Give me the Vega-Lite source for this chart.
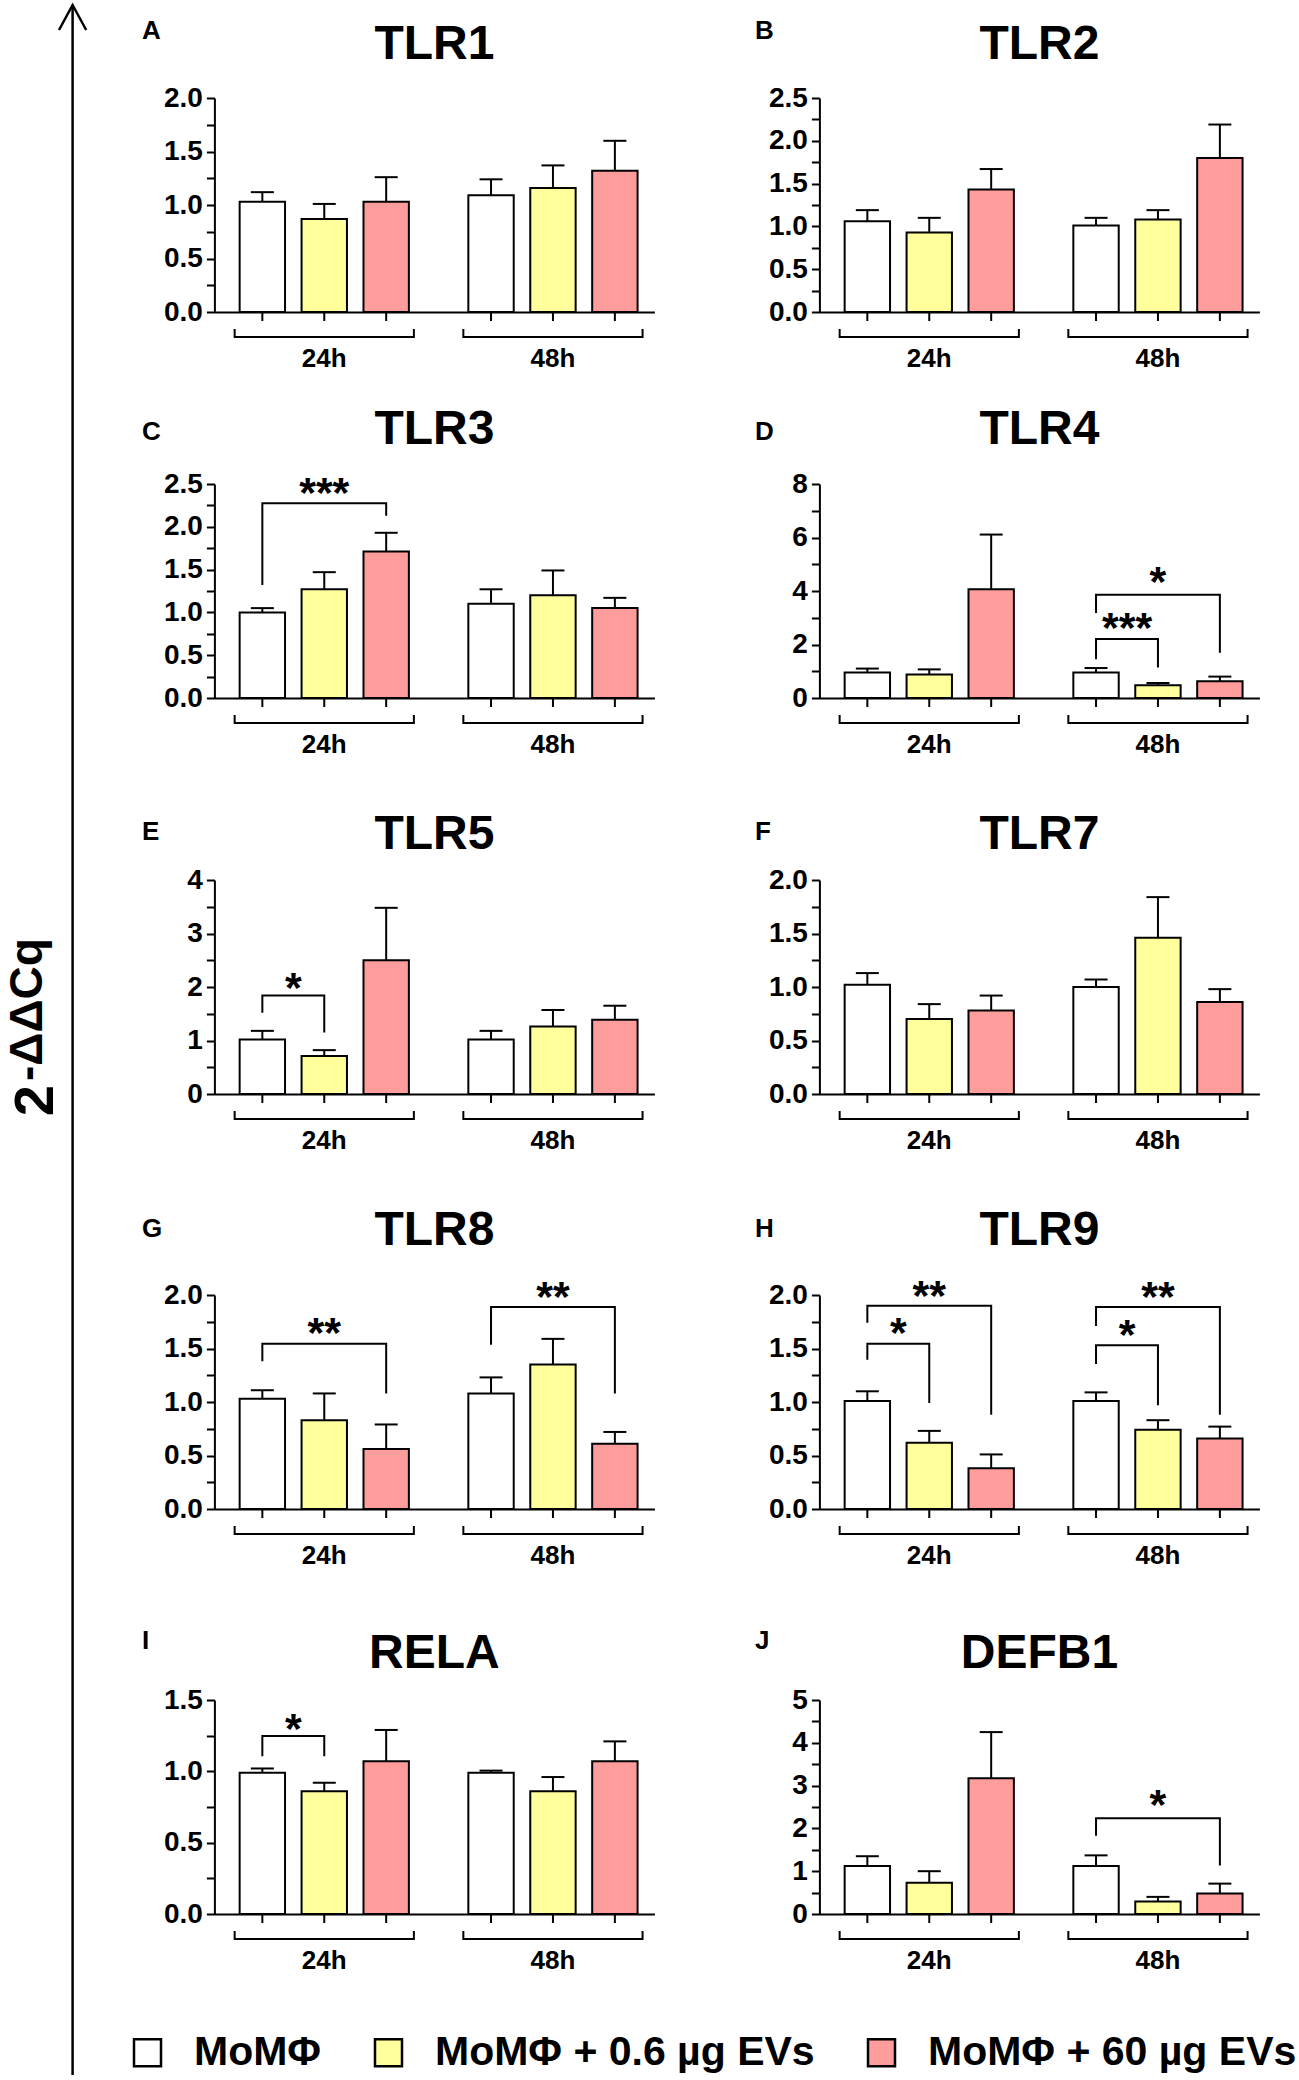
{
"$schema": "https://vega.github.io/schema/vega-lite/v6.json",
"background": "white",
"padding": {"left": 0, "top": 0, "right": 0, "bottom": 0},
"config": {
  "view": {"stroke": null},
  "font": "Liberation Sans",
  "title": {"fontSize": 48, "fontWeight": "bold", "color": "black", "anchor": "middle", "frame": "group", "baseline": "alphabetic"},
  "axis": {"domainColor": "black", "domainWidth": 2, "tickColor": "black", "tickWidth": 2, "tickSize": 8, "labelColor": "black", "labelFontSize": 28, "labelFontWeight": "bold", "labelPadding": 4, "grid": false, "labelOverlap": false, "titleColor": "black"},
  "axisX": {"ticks": false, "tickSize": 0, "labelPadding": 54, "labelBaseline": "alphabetic", "labelAngle": 0, "labelFontSize": 26},
  "axisY": {"titleAngle": 0, "titleAlign": "left", "titleBaseline": "alphabetic", "titleFontSize": 26, "titleFontWeight": "bold"}
},
"datasets": {
  "bars": [
    {"g":"TLR1","t":"24h","tr":"MoMΦ","m":1.03,"u":1.12},{"g":"TLR1","t":"24h","tr":"MoMΦ + 0.6 µg EVs","m":0.87,"u":1.01},{"g":"TLR1","t":"24h","tr":"MoMΦ + 60 µg EVs","m":1.03,"u":1.26},
    {"g":"TLR1","t":"48h","tr":"MoMΦ","m":1.09,"u":1.24},{"g":"TLR1","t":"48h","tr":"MoMΦ + 0.6 µg EVs","m":1.16,"u":1.37},{"g":"TLR1","t":"48h","tr":"MoMΦ + 60 µg EVs","m":1.32,"u":1.60},
    {"g":"TLR2","t":"24h","tr":"MoMΦ","m":1.06,"u":1.19},{"g":"TLR2","t":"24h","tr":"MoMΦ + 0.6 µg EVs","m":0.93,"u":1.10},{"g":"TLR2","t":"24h","tr":"MoMΦ + 60 µg EVs","m":1.43,"u":1.67},
    {"g":"TLR2","t":"48h","tr":"MoMΦ","m":1.01,"u":1.10},{"g":"TLR2","t":"48h","tr":"MoMΦ + 0.6 µg EVs","m":1.08,"u":1.19},{"g":"TLR2","t":"48h","tr":"MoMΦ + 60 µg EVs","m":1.80,"u":2.19},
    {"g":"TLR3","t":"24h","tr":"MoMΦ","m":1.00,"u":1.05},{"g":"TLR3","t":"24h","tr":"MoMΦ + 0.6 µg EVs","m":1.27,"u":1.47},{"g":"TLR3","t":"24h","tr":"MoMΦ + 60 µg EVs","m":1.71,"u":1.93},
    {"g":"TLR3","t":"48h","tr":"MoMΦ","m":1.10,"u":1.27},{"g":"TLR3","t":"48h","tr":"MoMΦ + 0.6 µg EVs","m":1.20,"u":1.49},{"g":"TLR3","t":"48h","tr":"MoMΦ + 60 µg EVs","m":1.05,"u":1.17},
    {"g":"TLR4","t":"24h","tr":"MoMΦ","m":0.95,"u":1.10},{"g":"TLR4","t":"24h","tr":"MoMΦ + 0.6 µg EVs","m":0.88,"u":1.07},{"g":"TLR4","t":"24h","tr":"MoMΦ + 60 µg EVs","m":4.07,"u":6.11},
    {"g":"TLR4","t":"48h","tr":"MoMΦ","m":0.95,"u":1.12},{"g":"TLR4","t":"48h","tr":"MoMΦ + 0.6 µg EVs","m":0.48,"u":0.56},{"g":"TLR4","t":"48h","tr":"MoMΦ + 60 µg EVs","m":0.63,"u":0.80},
    {"g":"TLR5","t":"24h","tr":"MoMΦ","m":1.02,"u":1.18},{"g":"TLR5","t":"24h","tr":"MoMΦ + 0.6 µg EVs","m":0.71,"u":0.82},{"g":"TLR5","t":"24h","tr":"MoMΦ + 60 µg EVs","m":2.50,"u":3.48},
    {"g":"TLR5","t":"48h","tr":"MoMΦ","m":1.02,"u":1.18},{"g":"TLR5","t":"48h","tr":"MoMΦ + 0.6 µg EVs","m":1.26,"u":1.57},{"g":"TLR5","t":"48h","tr":"MoMΦ + 60 µg EVs","m":1.39,"u":1.65},
    {"g":"TLR7","t":"24h","tr":"MoMΦ","m":1.02,"u":1.13},{"g":"TLR7","t":"24h","tr":"MoMΦ + 0.6 µg EVs","m":0.70,"u":0.84},{"g":"TLR7","t":"24h","tr":"MoMΦ + 60 µg EVs","m":0.78,"u":0.92},
    {"g":"TLR7","t":"48h","tr":"MoMΦ","m":1.00,"u":1.07},{"g":"TLR7","t":"48h","tr":"MoMΦ + 0.6 µg EVs","m":1.46,"u":1.84},{"g":"TLR7","t":"48h","tr":"MoMΦ + 60 µg EVs","m":0.86,"u":0.98},
    {"g":"TLR8","t":"24h","tr":"MoMΦ","m":1.03,"u":1.11},{"g":"TLR8","t":"24h","tr":"MoMΦ + 0.6 µg EVs","m":0.83,"u":1.08},{"g":"TLR8","t":"24h","tr":"MoMΦ + 60 µg EVs","m":0.56,"u":0.79},
    {"g":"TLR8","t":"48h","tr":"MoMΦ","m":1.08,"u":1.23},{"g":"TLR8","t":"48h","tr":"MoMΦ + 0.6 µg EVs","m":1.35,"u":1.59},{"g":"TLR8","t":"48h","tr":"MoMΦ + 60 µg EVs","m":0.61,"u":0.72},
    {"g":"TLR9","t":"24h","tr":"MoMΦ","m":1.01,"u":1.10},{"g":"TLR9","t":"24h","tr":"MoMΦ + 0.6 µg EVs","m":0.62,"u":0.73},{"g":"TLR9","t":"24h","tr":"MoMΦ + 60 µg EVs","m":0.38,"u":0.51},
    {"g":"TLR9","t":"48h","tr":"MoMΦ","m":1.01,"u":1.09},{"g":"TLR9","t":"48h","tr":"MoMΦ + 0.6 µg EVs","m":0.74,"u":0.83},{"g":"TLR9","t":"48h","tr":"MoMΦ + 60 µg EVs","m":0.66,"u":0.77},
    {"g":"RELA","t":"24h","tr":"MoMΦ","m":0.99,"u":1.02},{"g":"RELA","t":"24h","tr":"MoMΦ + 0.6 µg EVs","m":0.86,"u":0.92},{"g":"RELA","t":"24h","tr":"MoMΦ + 60 µg EVs","m":1.07,"u":1.29},
    {"g":"RELA","t":"48h","tr":"MoMΦ","m":0.99,"u":1.005},{"g":"RELA","t":"48h","tr":"MoMΦ + 0.6 µg EVs","m":0.86,"u":0.96},{"g":"RELA","t":"48h","tr":"MoMΦ + 60 µg EVs","m":1.07,"u":1.21},
    {"g":"DEFB1","t":"24h","tr":"MoMΦ","m":1.12,"u":1.35},{"g":"DEFB1","t":"24h","tr":"MoMΦ + 0.6 µg EVs","m":0.73,"u":1.00},{"g":"DEFB1","t":"24h","tr":"MoMΦ + 60 µg EVs","m":3.17,"u":4.25},
    {"g":"DEFB1","t":"48h","tr":"MoMΦ","m":1.12,"u":1.37},{"g":"DEFB1","t":"48h","tr":"MoMΦ + 0.6 µg EVs","m":0.29,"u":0.40},{"g":"DEFB1","t":"48h","tr":"MoMΦ + 60 µg EVs","m":0.48,"u":0.71}
  ],
  "sig": [
    {"g":"TLR3","t":"24h","id":"c1","s":1,"tr":"MoMΦ","y":1.32},{"g":"TLR3","t":"24h","id":"c1","s":2,"tr":"MoMΦ","y":2.276},{"g":"TLR3","t":"24h","id":"c1","s":3,"tr":"MoMΦ + 60 µg EVs","y":2.276},{"g":"TLR3","t":"24h","id":"c1","s":4,"tr":"MoMΦ + 60 µg EVs","y":2.13},
    {"g":"TLR4","t":"48h","id":"d1","s":1,"tr":"MoMΦ","y":1.45},{"g":"TLR4","t":"48h","id":"d1","s":2,"tr":"MoMΦ","y":2.21},{"g":"TLR4","t":"48h","id":"d1","s":3,"tr":"MoMΦ + 0.6 µg EVs","y":2.21},{"g":"TLR4","t":"48h","id":"d1","s":4,"tr":"MoMΦ + 0.6 µg EVs","y":1.14},
    {"g":"TLR4","t":"48h","id":"d2","s":1,"tr":"MoMΦ","y":3.18},{"g":"TLR4","t":"48h","id":"d2","s":2,"tr":"MoMΦ","y":3.86},{"g":"TLR4","t":"48h","id":"d2","s":3,"tr":"MoMΦ + 60 µg EVs","y":3.86},{"g":"TLR4","t":"48h","id":"d2","s":4,"tr":"MoMΦ + 60 µg EVs","y":1.69},
    {"g":"TLR5","t":"24h","id":"e1","s":1,"tr":"MoMΦ","y":1.52},{"g":"TLR5","t":"24h","id":"e1","s":2,"tr":"MoMΦ","y":1.84},{"g":"TLR5","t":"24h","id":"e1","s":3,"tr":"MoMΦ + 0.6 µg EVs","y":1.84},{"g":"TLR5","t":"24h","id":"e1","s":4,"tr":"MoMΦ + 0.6 µg EVs","y":1.15},
    {"g":"TLR8","t":"24h","id":"g1","s":1,"tr":"MoMΦ","y":1.38},{"g":"TLR8","t":"24h","id":"g1","s":2,"tr":"MoMΦ","y":1.545},{"g":"TLR8","t":"24h","id":"g1","s":3,"tr":"MoMΦ + 60 µg EVs","y":1.545},{"g":"TLR8","t":"24h","id":"g1","s":4,"tr":"MoMΦ + 60 µg EVs","y":1.08},
    {"g":"TLR8","t":"48h","id":"g2","s":1,"tr":"MoMΦ","y":1.536},{"g":"TLR8","t":"48h","id":"g2","s":2,"tr":"MoMΦ","y":1.887},{"g":"TLR8","t":"48h","id":"g2","s":3,"tr":"MoMΦ + 60 µg EVs","y":1.887},{"g":"TLR8","t":"48h","id":"g2","s":4,"tr":"MoMΦ + 60 µg EVs","y":1.08},
    {"g":"TLR9","t":"24h","id":"h1","s":1,"tr":"MoMΦ","y":1.395},{"g":"TLR9","t":"24h","id":"h1","s":2,"tr":"MoMΦ","y":1.545},{"g":"TLR9","t":"24h","id":"h1","s":3,"tr":"MoMΦ + 0.6 µg EVs","y":1.545},{"g":"TLR9","t":"24h","id":"h1","s":4,"tr":"MoMΦ + 0.6 µg EVs","y":0.99},
    {"g":"TLR9","t":"24h","id":"h2","s":1,"tr":"MoMΦ","y":1.74},{"g":"TLR9","t":"24h","id":"h2","s":2,"tr":"MoMΦ","y":1.90},{"g":"TLR9","t":"24h","id":"h2","s":3,"tr":"MoMΦ + 60 µg EVs","y":1.90},{"g":"TLR9","t":"24h","id":"h2","s":4,"tr":"MoMΦ + 60 µg EVs","y":0.88},
    {"g":"TLR9","t":"48h","id":"h3","s":1,"tr":"MoMΦ","y":1.354},{"g":"TLR9","t":"48h","id":"h3","s":2,"tr":"MoMΦ","y":1.53},{"g":"TLR9","t":"48h","id":"h3","s":3,"tr":"MoMΦ + 0.6 µg EVs","y":1.53},{"g":"TLR9","t":"48h","id":"h3","s":4,"tr":"MoMΦ + 0.6 µg EVs","y":0.97},
    {"g":"TLR9","t":"48h","id":"h4","s":1,"tr":"MoMΦ","y":1.71},{"g":"TLR9","t":"48h","id":"h4","s":2,"tr":"MoMΦ","y":1.887},{"g":"TLR9","t":"48h","id":"h4","s":3,"tr":"MoMΦ + 60 µg EVs","y":1.887},{"g":"TLR9","t":"48h","id":"h4","s":4,"tr":"MoMΦ + 60 µg EVs","y":0.88},
    {"g":"RELA","t":"24h","id":"i1","s":1,"tr":"MoMΦ","y":1.106},{"g":"RELA","t":"24h","id":"i1","s":2,"tr":"MoMΦ","y":1.247},{"g":"RELA","t":"24h","id":"i1","s":3,"tr":"MoMΦ + 0.6 µg EVs","y":1.247},{"g":"RELA","t":"24h","id":"i1","s":4,"tr":"MoMΦ + 0.6 µg EVs","y":1.106},
    {"g":"DEFB1","t":"48h","id":"j1","s":1,"tr":"MoMΦ","y":1.83},{"g":"DEFB1","t":"48h","id":"j1","s":2,"tr":"MoMΦ","y":2.24},{"g":"DEFB1","t":"48h","id":"j1","s":3,"tr":"MoMΦ + 60 µg EVs","y":2.24},{"g":"DEFB1","t":"48h","id":"j1","s":4,"tr":"MoMΦ + 60 µg EVs","y":1.136}
  ],
  "lab": [
    {"g":"TLR3","t":"24h","a":"MoMΦ","b":"MoMΦ + 60 µg EVs","y":2.48,"lbl":"***"},
    {"g":"TLR4","t":"48h","a":"MoMΦ","b":"MoMΦ + 0.6 µg EVs","y":2.87,"lbl":"***"},
    {"g":"TLR4","t":"48h","a":"MoMΦ","b":"MoMΦ + 60 µg EVs","y":4.6,"lbl":"*"},
    {"g":"TLR5","t":"24h","a":"MoMΦ","b":"MoMΦ + 0.6 µg EVs","y":2.15,"lbl":"*"},
    {"g":"TLR8","t":"24h","a":"MoMΦ","b":"MoMΦ + 60 µg EVs","y":1.71,"lbl":"**"},
    {"g":"TLR8","t":"48h","a":"MoMΦ","b":"MoMΦ + 60 µg EVs","y":2.05,"lbl":"**"},
    {"g":"TLR9","t":"24h","a":"MoMΦ","b":"MoMΦ + 0.6 µg EVs","y":1.71,"lbl":"*"},
    {"g":"TLR9","t":"24h","a":"MoMΦ","b":"MoMΦ + 60 µg EVs","y":2.06,"lbl":"**"},
    {"g":"TLR9","t":"48h","a":"MoMΦ","b":"MoMΦ + 0.6 µg EVs","y":1.69,"lbl":"*"},
    {"g":"TLR9","t":"48h","a":"MoMΦ","b":"MoMΦ + 60 µg EVs","y":2.05,"lbl":"**"},
    {"g":"RELA","t":"24h","a":"MoMΦ","b":"MoMΦ + 0.6 µg EVs","y":1.35,"lbl":"*"},
    {"g":"DEFB1","t":"48h","a":"MoMΦ","b":"MoMΦ + 60 µg EVs","y":2.68,"lbl":"*"}
  ]
},
"hconcat": [
  {
    "width": 72.6, "height": 2070,
    "data": {"values": [{"k": 1}]},
    "layer": [
      {"mark": {"type": "rule", "color": "black", "strokeWidth": 2.5},
       "encoding": {"x": {"datum": 1, "type": "quantitative", "scale": {"domain": [0, 1]}, "axis": null},
                    "y": {"datum": 0, "type": "quantitative", "scale": {"domain": [0, 1]}, "axis": null},
                    "y2": {"datum": 1}}},
      {"mark": {"type": "point", "shape": "M-1,1.84L0,0L1,1.84", "size": 740, "filled": false, "color": "black", "strokeWidth": 2.5, "opacity": 1},
       "encoding": {"x": {"datum": 1, "type": "quantitative"}, "y": {"datum": 1, "type": "quantitative"}}},
      {"mark": {"type": "text", "text": "2", "angle": 270, "align": "right", "baseline": "alphabetic", "fontSize": 56, "fontWeight": "bold", "color": "black", "dx": -45, "dy": 16.7}, "encoding": {}},
      {"mark": {"type": "text", "text": "-ΔΔCq", "angle": 270, "align": "left", "baseline": "alphabetic", "fontSize": 46, "fontWeight": "bold", "color": "black", "dx": -41, "dy": 5.7}, "encoding": {}}
    ]
  },
  {
    "spacing": 0, "bounds": "flush",
    "vconcat": [
      {"width": 10, "height": 93, "data": {"values": []}, "mark": "point", "encoding": {}},
      {"spacing": 165, "bounds": "flush", "hconcat": [
        {"width": 440, "height": 214, "title": {"text": "TLR1", "offset": -52.2},
         "data": {"name": "bars"}, "transform": [{"filter": "datum.g == 'TLR1'"}],
         "encoding": {
           "x": {"field": "t", "type": "nominal", "title": null, "scale": {"domain": ["24h","48h"], "paddingInner": 0.26, "paddingOuter": 0.092, "align": 0.6}},
           "y": {"field": "m", "type": "quantitative", "scale": {"domain": [0, 2], "nice": false}, "axis": {"values": [0,0.25,0.5,0.75,1,1.25,1.5,1.75,2], "labelExpr": "datum.value % 0.5 == 0 ? format(datum.value, '.1f') : ''", "title": "A", "titleX": -73, "titleY": -60}}
         },
         "layer": [
           {"mark": {"type": "bar", "stroke": "black", "strokeWidth": 2},
            "encoding": {"xOffset": {"field": "tr", "type": "nominal", "scale": {"domain": ["MoMΦ","MoMΦ + 0.6 µg EVs","MoMΦ + 60 µg EVs"], "paddingInner": 0.267, "paddingOuter": 0}},
                         "fill": {"field": "tr", "type": "nominal", "scale": {"domain": ["MoMΦ","MoMΦ + 0.6 µg EVs","MoMΦ + 60 µg EVs"], "range": ["#ffffff","#ffff9c","#ff9c9c"]},
                                  "legend": {"orient": "none", "legendX": 127, "legendY": 2027, "direction": "horizontal", "title": null, "symbolType": "square", "symbolSize": 729, "symbolStrokeColor": "black", "symbolStrokeWidth": 2.5, "symbolOpacity": 1, "labelFontSize": 41, "labelFontWeight": "bold", "labelColor": "black", "labelOffset": 26, "columnPadding": 46, "labelLimit": 1000, "padding": 0}}}},
           {"mark": {"type": "rule", "color": "black", "strokeWidth": 2}, "encoding": {"xOffset": {"field": "tr", "type": "nominal"}, "y2": {"field": "u"}}},
           {"mark": {"type": "tick", "orient": "horizontal", "size": 23, "thickness": 2, "color": "black", "opacity": 1}, "encoding": {"xOffset": {"field": "tr", "type": "nominal"}, "y": {"field": "u", "type": "quantitative", "scale": {"domain": [0, 2], "nice": false}}}},
           {"mark": {"type": "rule", "color": "black", "strokeWidth": 2, "y2Offset": 9}, "encoding": {"xOffset": {"field": "tr", "type": "nominal"}, "y": {"datum": 0}, "y2": {"datum": 0}}},
           {"transform": [{"filter": "datum.tr == 'MoMΦ'"}], "mark": {"type": "rule", "color": "black", "strokeWidth": 2, "yOffset": 25, "xOffset": -5, "x2Offset": 5}, "encoding": {"x": {"field": "t", "type": "nominal", "bandPosition": 0}, "x2": {"field": "t", "bandPosition": 1}, "y": {"datum": 0}}},
           {"transform": [{"filter": "datum.tr == 'MoMΦ'"}], "mark": {"type": "rule", "color": "black", "strokeWidth": 2, "yOffset": 17, "y2Offset": 26, "xOffset": -5}, "encoding": {"x": {"field": "t", "type": "nominal", "bandPosition": 0}, "y": {"datum": 0}, "y2": {"datum": 0}}},
           {"transform": [{"filter": "datum.tr == 'MoMΦ'"}], "mark": {"type": "rule", "color": "black", "strokeWidth": 2, "yOffset": 17, "y2Offset": 26, "xOffset": 5}, "encoding": {"x": {"field": "t", "type": "nominal", "bandPosition": 1}, "y": {"datum": 0}, "y2": {"datum": 0}}}
         ]},
        {"width": 440, "height": 214, "title": {"text": "TLR2", "offset": -52.2},
         "data": {"name": "bars"}, "transform": [{"filter": "datum.g == 'TLR2'"}],
         "encoding": {
           "x": {"field": "t", "type": "nominal", "title": null, "scale": {"domain": ["24h","48h"], "paddingInner": 0.26, "paddingOuter": 0.092, "align": 0.6}},
           "y": {"field": "m", "type": "quantitative", "scale": {"domain": [0, 2.5], "nice": false}, "axis": {"values": [0,0.25,0.5,0.75,1,1.25,1.5,1.75,2,2.25,2.5], "labelExpr": "datum.value % 0.5 == 0 ? format(datum.value, '.1f') : ''", "title": "B", "titleX": -65, "titleY": -60}}
         },
         "layer": [
           {"mark": {"type": "bar", "stroke": "black", "strokeWidth": 2},
            "encoding": {"xOffset": {"field": "tr", "type": "nominal", "scale": {"domain": ["MoMΦ","MoMΦ + 0.6 µg EVs","MoMΦ + 60 µg EVs"], "paddingInner": 0.267, "paddingOuter": 0}},
                         "fill": {"field": "tr", "type": "nominal", "scale": {"domain": ["MoMΦ","MoMΦ + 0.6 µg EVs","MoMΦ + 60 µg EVs"], "range": ["#ffffff","#ffff9c","#ff9c9c"]}}}},
           {"mark": {"type": "rule", "color": "black", "strokeWidth": 2}, "encoding": {"xOffset": {"field": "tr", "type": "nominal"}, "y2": {"field": "u"}}},
           {"mark": {"type": "tick", "orient": "horizontal", "size": 23, "thickness": 2, "color": "black", "opacity": 1}, "encoding": {"xOffset": {"field": "tr", "type": "nominal"}, "y": {"field": "u", "type": "quantitative", "scale": {"domain": [0, 2.5], "nice": false}}}},
           {"mark": {"type": "rule", "color": "black", "strokeWidth": 2, "y2Offset": 9}, "encoding": {"xOffset": {"field": "tr", "type": "nominal"}, "y": {"datum": 0}, "y2": {"datum": 0}}},
           {"transform": [{"filter": "datum.tr == 'MoMΦ'"}], "mark": {"type": "rule", "color": "black", "strokeWidth": 2, "yOffset": 25, "xOffset": -5, "x2Offset": 5}, "encoding": {"x": {"field": "t", "type": "nominal", "bandPosition": 0}, "x2": {"field": "t", "bandPosition": 1}, "y": {"datum": 0}}},
           {"transform": [{"filter": "datum.tr == 'MoMΦ'"}], "mark": {"type": "rule", "color": "black", "strokeWidth": 2, "yOffset": 17, "y2Offset": 26, "xOffset": -5}, "encoding": {"x": {"field": "t", "type": "nominal", "bandPosition": 0}, "y": {"datum": 0}, "y2": {"datum": 0}}},
           {"transform": [{"filter": "datum.tr == 'MoMΦ'"}], "mark": {"type": "rule", "color": "black", "strokeWidth": 2, "yOffset": 17, "y2Offset": 26, "xOffset": 5}, "encoding": {"x": {"field": "t", "type": "nominal", "bandPosition": 1}, "y": {"datum": 0}, "y2": {"datum": 0}}}
         ]}
      ]},
      {"width": 10, "height": 386, "data": {"values": []}, "mark": "point", "encoding": {}},
      {"spacing": 165, "bounds": "flush", "hconcat": [
        {"width": 440, "height": 214, "title": {"text": "TLR3", "offset": -36.3},
         "data": {"name": "bars"}, "transform": [{"filter": "datum.g == 'TLR3'"}],
         "encoding": {
           "x": {"field": "t", "type": "nominal", "title": null, "scale": {"domain": ["24h","48h"], "paddingInner": 0.26, "paddingOuter": 0.092, "align": 0.6}},
           "y": {"field": "m", "type": "quantitative", "scale": {"domain": [0, 2.5], "nice": false}, "axis": {"values": [0,0.25,0.5,0.75,1,1.25,1.5,1.75,2,2.25,2.5], "labelExpr": "datum.value % 0.5 == 0 ? format(datum.value, '.1f') : ''", "title": "C", "titleX": -73, "titleY": -45}}
         },
         "layer": [
           {"mark": {"type": "bar", "stroke": "black", "strokeWidth": 2},
            "encoding": {"xOffset": {"field": "tr", "type": "nominal", "scale": {"domain": ["MoMΦ","MoMΦ + 0.6 µg EVs","MoMΦ + 60 µg EVs"], "paddingInner": 0.267, "paddingOuter": 0}},
                         "fill": {"field": "tr", "type": "nominal", "scale": {"domain": ["MoMΦ","MoMΦ + 0.6 µg EVs","MoMΦ + 60 µg EVs"], "range": ["#ffffff","#ffff9c","#ff9c9c"]}}}},
           {"mark": {"type": "rule", "color": "black", "strokeWidth": 2}, "encoding": {"xOffset": {"field": "tr", "type": "nominal"}, "y2": {"field": "u"}}},
           {"mark": {"type": "tick", "orient": "horizontal", "size": 23, "thickness": 2, "color": "black", "opacity": 1}, "encoding": {"xOffset": {"field": "tr", "type": "nominal"}, "y": {"field": "u", "type": "quantitative", "scale": {"domain": [0, 2.5], "nice": false}}}},
           {"mark": {"type": "rule", "color": "black", "strokeWidth": 2, "y2Offset": 9}, "encoding": {"xOffset": {"field": "tr", "type": "nominal"}, "y": {"datum": 0}, "y2": {"datum": 0}}},
           {"transform": [{"filter": "datum.tr == 'MoMΦ'"}], "mark": {"type": "rule", "color": "black", "strokeWidth": 2, "yOffset": 25, "xOffset": -5, "x2Offset": 5}, "encoding": {"x": {"field": "t", "type": "nominal", "bandPosition": 0}, "x2": {"field": "t", "bandPosition": 1}, "y": {"datum": 0}}},
           {"transform": [{"filter": "datum.tr == 'MoMΦ'"}], "mark": {"type": "rule", "color": "black", "strokeWidth": 2, "yOffset": 17, "y2Offset": 26, "xOffset": -5}, "encoding": {"x": {"field": "t", "type": "nominal", "bandPosition": 0}, "y": {"datum": 0}, "y2": {"datum": 0}}},
           {"transform": [{"filter": "datum.tr == 'MoMΦ'"}], "mark": {"type": "rule", "color": "black", "strokeWidth": 2, "yOffset": 17, "y2Offset": 26, "xOffset": 5}, "encoding": {"x": {"field": "t", "type": "nominal", "bandPosition": 1}, "y": {"datum": 0}, "y2": {"datum": 0}}},
           {"data": {"name": "sig"}, "transform": [{"filter": "datum.g == 'TLR3'"}], "mark": {"type": "line", "color": "black", "strokeWidth": 2}, "encoding": {"xOffset": {"field": "tr", "type": "nominal"}, "y": {"field": "y", "type": "quantitative", "scale": {"domain": [0, 2.5], "nice": false}}, "detail": {"field": "id", "type": "nominal"}, "order": {"field": "s", "type": "quantitative"}}},
           {"data": {"name": "lab"}, "transform": [{"filter": "datum.g == 'TLR3' && datum.b == 'MoMΦ + 60 µg EVs'"}], "mark": {"type": "text", "fontSize": 43, "fontWeight": "bold", "color": "black", "baseline": "alphabetic", "dx": 61.9, "dy": 21}, "encoding": {"xOffset": {"field": "a", "type": "nominal"}, "y": {"field": "y", "type": "quantitative", "scale": {"domain": [0, 2.5], "nice": false}}, "text": {"field": "lbl"}}}
         ]},
        {"width": 440, "height": 214, "title": {"text": "TLR4", "offset": -36.3},
         "data": {"name": "bars"}, "transform": [{"filter": "datum.g == 'TLR4'"}],
         "encoding": {
           "x": {"field": "t", "type": "nominal", "title": null, "scale": {"domain": ["24h","48h"], "paddingInner": 0.26, "paddingOuter": 0.092, "align": 0.6}},
           "y": {"field": "m", "type": "quantitative", "scale": {"domain": [0, 8], "nice": false}, "axis": {"values": [0,1,2,3,4,5,6,7,8], "labelExpr": "datum.value % 2 == 0 ? format(datum.value, 'd') : ''", "title": "D", "titleX": -65, "titleY": -45}}
         },
         "layer": [
           {"mark": {"type": "bar", "stroke": "black", "strokeWidth": 2},
            "encoding": {"xOffset": {"field": "tr", "type": "nominal", "scale": {"domain": ["MoMΦ","MoMΦ + 0.6 µg EVs","MoMΦ + 60 µg EVs"], "paddingInner": 0.267, "paddingOuter": 0}},
                         "fill": {"field": "tr", "type": "nominal", "scale": {"domain": ["MoMΦ","MoMΦ + 0.6 µg EVs","MoMΦ + 60 µg EVs"], "range": ["#ffffff","#ffff9c","#ff9c9c"]}}}},
           {"mark": {"type": "rule", "color": "black", "strokeWidth": 2}, "encoding": {"xOffset": {"field": "tr", "type": "nominal"}, "y2": {"field": "u"}}},
           {"mark": {"type": "tick", "orient": "horizontal", "size": 23, "thickness": 2, "color": "black", "opacity": 1}, "encoding": {"xOffset": {"field": "tr", "type": "nominal"}, "y": {"field": "u", "type": "quantitative", "scale": {"domain": [0, 8], "nice": false}}}},
           {"mark": {"type": "rule", "color": "black", "strokeWidth": 2, "y2Offset": 9}, "encoding": {"xOffset": {"field": "tr", "type": "nominal"}, "y": {"datum": 0}, "y2": {"datum": 0}}},
           {"transform": [{"filter": "datum.tr == 'MoMΦ'"}], "mark": {"type": "rule", "color": "black", "strokeWidth": 2, "yOffset": 25, "xOffset": -5, "x2Offset": 5}, "encoding": {"x": {"field": "t", "type": "nominal", "bandPosition": 0}, "x2": {"field": "t", "bandPosition": 1}, "y": {"datum": 0}}},
           {"transform": [{"filter": "datum.tr == 'MoMΦ'"}], "mark": {"type": "rule", "color": "black", "strokeWidth": 2, "yOffset": 17, "y2Offset": 26, "xOffset": -5}, "encoding": {"x": {"field": "t", "type": "nominal", "bandPosition": 0}, "y": {"datum": 0}, "y2": {"datum": 0}}},
           {"transform": [{"filter": "datum.tr == 'MoMΦ'"}], "mark": {"type": "rule", "color": "black", "strokeWidth": 2, "yOffset": 17, "y2Offset": 26, "xOffset": 5}, "encoding": {"x": {"field": "t", "type": "nominal", "bandPosition": 1}, "y": {"datum": 0}, "y2": {"datum": 0}}},
           {"data": {"name": "sig"}, "transform": [{"filter": "datum.g == 'TLR4'"}], "mark": {"type": "line", "color": "black", "strokeWidth": 2}, "encoding": {"xOffset": {"field": "tr", "type": "nominal"}, "y": {"field": "y", "type": "quantitative", "scale": {"domain": [0, 8], "nice": false}}, "detail": {"field": "id", "type": "nominal"}, "order": {"field": "s", "type": "quantitative"}}},
           {"data": {"name": "lab"}, "transform": [{"filter": "datum.g == 'TLR4' && datum.b == 'MoMΦ + 60 µg EVs'"}], "mark": {"type": "text", "fontSize": 43, "fontWeight": "bold", "color": "black", "baseline": "alphabetic", "dx": 61.9, "dy": 21}, "encoding": {"xOffset": {"field": "a", "type": "nominal"}, "y": {"field": "y", "type": "quantitative", "scale": {"domain": [0, 8], "nice": false}}, "text": {"field": "lbl"}}},
           {"data": {"name": "lab"}, "transform": [{"filter": "datum.g == 'TLR4' && datum.b == 'MoMΦ + 0.6 µg EVs'"}], "mark": {"type": "text", "fontSize": 43, "fontWeight": "bold", "color": "black", "baseline": "alphabetic", "dx": 31, "dy": 21}, "encoding": {"xOffset": {"field": "a", "type": "nominal"}, "y": {"field": "y", "type": "quantitative", "scale": {"domain": [0, 8], "nice": false}}, "text": {"field": "lbl"}}}
         ]}
      ]},
      {"width": 10, "height": 396, "data": {"values": []}, "mark": "point", "encoding": {}},
      {"spacing": 165, "bounds": "flush", "hconcat": [
        {"width": 440, "height": 214, "title": {"text": "TLR5", "offset": -40.6},
         "data": {"name": "bars"}, "transform": [{"filter": "datum.g == 'TLR5'"}],
         "encoding": {
           "x": {"field": "t", "type": "nominal", "title": null, "scale": {"domain": ["24h","48h"], "paddingInner": 0.26, "paddingOuter": 0.092, "align": 0.6}},
           "y": {"field": "m", "type": "quantitative", "scale": {"domain": [0, 4], "nice": false}, "axis": {"values": [0,0.5,1,1.5,2,2.5,3,3.5,4], "labelExpr": "datum.value % 1 == 0 ? format(datum.value, 'd') : ''", "title": "E", "titleX": -73, "titleY": -40.7}}
         },
         "layer": [
           {"mark": {"type": "bar", "stroke": "black", "strokeWidth": 2},
            "encoding": {"xOffset": {"field": "tr", "type": "nominal", "scale": {"domain": ["MoMΦ","MoMΦ + 0.6 µg EVs","MoMΦ + 60 µg EVs"], "paddingInner": 0.267, "paddingOuter": 0}},
                         "fill": {"field": "tr", "type": "nominal", "scale": {"domain": ["MoMΦ","MoMΦ + 0.6 µg EVs","MoMΦ + 60 µg EVs"], "range": ["#ffffff","#ffff9c","#ff9c9c"]}}}},
           {"mark": {"type": "rule", "color": "black", "strokeWidth": 2}, "encoding": {"xOffset": {"field": "tr", "type": "nominal"}, "y2": {"field": "u"}}},
           {"mark": {"type": "tick", "orient": "horizontal", "size": 23, "thickness": 2, "color": "black", "opacity": 1}, "encoding": {"xOffset": {"field": "tr", "type": "nominal"}, "y": {"field": "u", "type": "quantitative", "scale": {"domain": [0, 4], "nice": false}}}},
           {"mark": {"type": "rule", "color": "black", "strokeWidth": 2, "y2Offset": 9}, "encoding": {"xOffset": {"field": "tr", "type": "nominal"}, "y": {"datum": 0}, "y2": {"datum": 0}}},
           {"transform": [{"filter": "datum.tr == 'MoMΦ'"}], "mark": {"type": "rule", "color": "black", "strokeWidth": 2, "yOffset": 25, "xOffset": -5, "x2Offset": 5}, "encoding": {"x": {"field": "t", "type": "nominal", "bandPosition": 0}, "x2": {"field": "t", "bandPosition": 1}, "y": {"datum": 0}}},
           {"transform": [{"filter": "datum.tr == 'MoMΦ'"}], "mark": {"type": "rule", "color": "black", "strokeWidth": 2, "yOffset": 17, "y2Offset": 26, "xOffset": -5}, "encoding": {"x": {"field": "t", "type": "nominal", "bandPosition": 0}, "y": {"datum": 0}, "y2": {"datum": 0}}},
           {"transform": [{"filter": "datum.tr == 'MoMΦ'"}], "mark": {"type": "rule", "color": "black", "strokeWidth": 2, "yOffset": 17, "y2Offset": 26, "xOffset": 5}, "encoding": {"x": {"field": "t", "type": "nominal", "bandPosition": 1}, "y": {"datum": 0}, "y2": {"datum": 0}}},
           {"data": {"name": "sig"}, "transform": [{"filter": "datum.g == 'TLR5'"}], "mark": {"type": "line", "color": "black", "strokeWidth": 2}, "encoding": {"xOffset": {"field": "tr", "type": "nominal"}, "y": {"field": "y", "type": "quantitative", "scale": {"domain": [0, 4], "nice": false}}, "detail": {"field": "id", "type": "nominal"}, "order": {"field": "s", "type": "quantitative"}}},
           {"data": {"name": "lab"}, "transform": [{"filter": "datum.g == 'TLR5' && datum.b == 'MoMΦ + 0.6 µg EVs'"}], "mark": {"type": "text", "fontSize": 43, "fontWeight": "bold", "color": "black", "baseline": "alphabetic", "dx": 31, "dy": 23}, "encoding": {"xOffset": {"field": "a", "type": "nominal"}, "y": {"field": "y", "type": "quantitative", "scale": {"domain": [0, 4], "nice": false}}, "text": {"field": "lbl"}}}
         ]},
        {"width": 440, "height": 214, "title": {"text": "TLR7", "offset": -40.6},
         "data": {"name": "bars"}, "transform": [{"filter": "datum.g == 'TLR7'"}],
         "encoding": {
           "x": {"field": "t", "type": "nominal", "title": null, "scale": {"domain": ["24h","48h"], "paddingInner": 0.26, "paddingOuter": 0.092, "align": 0.6}},
           "y": {"field": "m", "type": "quantitative", "scale": {"domain": [0, 2], "nice": false}, "axis": {"values": [0,0.25,0.5,0.75,1,1.25,1.5,1.75,2], "labelExpr": "datum.value % 0.5 == 0 ? format(datum.value, '.1f') : ''", "title": "F", "titleX": -65, "titleY": -40.7}}
         },
         "layer": [
           {"mark": {"type": "bar", "stroke": "black", "strokeWidth": 2},
            "encoding": {"xOffset": {"field": "tr", "type": "nominal", "scale": {"domain": ["MoMΦ","MoMΦ + 0.6 µg EVs","MoMΦ + 60 µg EVs"], "paddingInner": 0.267, "paddingOuter": 0}},
                         "fill": {"field": "tr", "type": "nominal", "scale": {"domain": ["MoMΦ","MoMΦ + 0.6 µg EVs","MoMΦ + 60 µg EVs"], "range": ["#ffffff","#ffff9c","#ff9c9c"]}}}},
           {"mark": {"type": "rule", "color": "black", "strokeWidth": 2}, "encoding": {"xOffset": {"field": "tr", "type": "nominal"}, "y2": {"field": "u"}}},
           {"mark": {"type": "tick", "orient": "horizontal", "size": 23, "thickness": 2, "color": "black", "opacity": 1}, "encoding": {"xOffset": {"field": "tr", "type": "nominal"}, "y": {"field": "u", "type": "quantitative", "scale": {"domain": [0, 2], "nice": false}}}},
           {"mark": {"type": "rule", "color": "black", "strokeWidth": 2, "y2Offset": 9}, "encoding": {"xOffset": {"field": "tr", "type": "nominal"}, "y": {"datum": 0}, "y2": {"datum": 0}}},
           {"transform": [{"filter": "datum.tr == 'MoMΦ'"}], "mark": {"type": "rule", "color": "black", "strokeWidth": 2, "yOffset": 25, "xOffset": -5, "x2Offset": 5}, "encoding": {"x": {"field": "t", "type": "nominal", "bandPosition": 0}, "x2": {"field": "t", "bandPosition": 1}, "y": {"datum": 0}}},
           {"transform": [{"filter": "datum.tr == 'MoMΦ'"}], "mark": {"type": "rule", "color": "black", "strokeWidth": 2, "yOffset": 17, "y2Offset": 26, "xOffset": -5}, "encoding": {"x": {"field": "t", "type": "nominal", "bandPosition": 0}, "y": {"datum": 0}, "y2": {"datum": 0}}},
           {"transform": [{"filter": "datum.tr == 'MoMΦ'"}], "mark": {"type": "rule", "color": "black", "strokeWidth": 2, "yOffset": 17, "y2Offset": 26, "xOffset": 5}, "encoding": {"x": {"field": "t", "type": "nominal", "bandPosition": 1}, "y": {"datum": 0}, "y2": {"datum": 0}}}
         ]}
      ]},
      {"width": 10, "height": 415, "data": {"values": []}, "mark": "point", "encoding": {}},
      {"spacing": 165, "bounds": "flush", "hconcat": [
        {"width": 440, "height": 214, "title": {"text": "TLR8", "offset": -40},
         "data": {"name": "bars"}, "transform": [{"filter": "datum.g == 'TLR8'"}],
         "encoding": {
           "x": {"field": "t", "type": "nominal", "title": null, "scale": {"domain": ["24h","48h"], "paddingInner": 0.26, "paddingOuter": 0.092, "align": 0.6}},
           "y": {"field": "m", "type": "quantitative", "scale": {"domain": [0, 2], "nice": false}, "axis": {"values": [0,0.25,0.5,0.75,1,1.25,1.5,1.75,2], "labelExpr": "datum.value % 0.5 == 0 ? format(datum.value, '.1f') : ''", "title": "G", "titleX": -73, "titleY": -59}}
         },
         "layer": [
           {"mark": {"type": "bar", "stroke": "black", "strokeWidth": 2},
            "encoding": {"xOffset": {"field": "tr", "type": "nominal", "scale": {"domain": ["MoMΦ","MoMΦ + 0.6 µg EVs","MoMΦ + 60 µg EVs"], "paddingInner": 0.267, "paddingOuter": 0}},
                         "fill": {"field": "tr", "type": "nominal", "scale": {"domain": ["MoMΦ","MoMΦ + 0.6 µg EVs","MoMΦ + 60 µg EVs"], "range": ["#ffffff","#ffff9c","#ff9c9c"]}}}},
           {"mark": {"type": "rule", "color": "black", "strokeWidth": 2}, "encoding": {"xOffset": {"field": "tr", "type": "nominal"}, "y2": {"field": "u"}}},
           {"mark": {"type": "tick", "orient": "horizontal", "size": 23, "thickness": 2, "color": "black", "opacity": 1}, "encoding": {"xOffset": {"field": "tr", "type": "nominal"}, "y": {"field": "u", "type": "quantitative", "scale": {"domain": [0, 2], "nice": false}}}},
           {"mark": {"type": "rule", "color": "black", "strokeWidth": 2, "y2Offset": 9}, "encoding": {"xOffset": {"field": "tr", "type": "nominal"}, "y": {"datum": 0}, "y2": {"datum": 0}}},
           {"transform": [{"filter": "datum.tr == 'MoMΦ'"}], "mark": {"type": "rule", "color": "black", "strokeWidth": 2, "yOffset": 25, "xOffset": -5, "x2Offset": 5}, "encoding": {"x": {"field": "t", "type": "nominal", "bandPosition": 0}, "x2": {"field": "t", "bandPosition": 1}, "y": {"datum": 0}}},
           {"transform": [{"filter": "datum.tr == 'MoMΦ'"}], "mark": {"type": "rule", "color": "black", "strokeWidth": 2, "yOffset": 17, "y2Offset": 26, "xOffset": -5}, "encoding": {"x": {"field": "t", "type": "nominal", "bandPosition": 0}, "y": {"datum": 0}, "y2": {"datum": 0}}},
           {"transform": [{"filter": "datum.tr == 'MoMΦ'"}], "mark": {"type": "rule", "color": "black", "strokeWidth": 2, "yOffset": 17, "y2Offset": 26, "xOffset": 5}, "encoding": {"x": {"field": "t", "type": "nominal", "bandPosition": 1}, "y": {"datum": 0}, "y2": {"datum": 0}}},
           {"data": {"name": "sig"}, "transform": [{"filter": "datum.g == 'TLR8'"}], "mark": {"type": "line", "color": "black", "strokeWidth": 2}, "encoding": {"xOffset": {"field": "tr", "type": "nominal"}, "y": {"field": "y", "type": "quantitative", "scale": {"domain": [0, 2], "nice": false}}, "detail": {"field": "id", "type": "nominal"}, "order": {"field": "s", "type": "quantitative"}}},
           {"data": {"name": "lab"}, "transform": [{"filter": "datum.g == 'TLR8' && datum.b == 'MoMΦ + 60 µg EVs'"}], "mark": {"type": "text", "fontSize": 43, "fontWeight": "bold", "color": "black", "baseline": "alphabetic", "dx": 61.9, "dy": 21}, "encoding": {"xOffset": {"field": "a", "type": "nominal"}, "y": {"field": "y", "type": "quantitative", "scale": {"domain": [0, 2], "nice": false}}, "text": {"field": "lbl"}}}
         ]},
        {"width": 440, "height": 214, "title": {"text": "TLR9", "offset": -40},
         "data": {"name": "bars"}, "transform": [{"filter": "datum.g == 'TLR9'"}],
         "encoding": {
           "x": {"field": "t", "type": "nominal", "title": null, "scale": {"domain": ["24h","48h"], "paddingInner": 0.26, "paddingOuter": 0.092, "align": 0.6}},
           "y": {"field": "m", "type": "quantitative", "scale": {"domain": [0, 2], "nice": false}, "axis": {"values": [0,0.25,0.5,0.75,1,1.25,1.5,1.75,2], "labelExpr": "datum.value % 0.5 == 0 ? format(datum.value, '.1f') : ''", "title": "H", "titleX": -65, "titleY": -59}}
         },
         "layer": [
           {"mark": {"type": "bar", "stroke": "black", "strokeWidth": 2},
            "encoding": {"xOffset": {"field": "tr", "type": "nominal", "scale": {"domain": ["MoMΦ","MoMΦ + 0.6 µg EVs","MoMΦ + 60 µg EVs"], "paddingInner": 0.267, "paddingOuter": 0}},
                         "fill": {"field": "tr", "type": "nominal", "scale": {"domain": ["MoMΦ","MoMΦ + 0.6 µg EVs","MoMΦ + 60 µg EVs"], "range": ["#ffffff","#ffff9c","#ff9c9c"]}}}},
           {"mark": {"type": "rule", "color": "black", "strokeWidth": 2}, "encoding": {"xOffset": {"field": "tr", "type": "nominal"}, "y2": {"field": "u"}}},
           {"mark": {"type": "tick", "orient": "horizontal", "size": 23, "thickness": 2, "color": "black", "opacity": 1}, "encoding": {"xOffset": {"field": "tr", "type": "nominal"}, "y": {"field": "u", "type": "quantitative", "scale": {"domain": [0, 2], "nice": false}}}},
           {"mark": {"type": "rule", "color": "black", "strokeWidth": 2, "y2Offset": 9}, "encoding": {"xOffset": {"field": "tr", "type": "nominal"}, "y": {"datum": 0}, "y2": {"datum": 0}}},
           {"transform": [{"filter": "datum.tr == 'MoMΦ'"}], "mark": {"type": "rule", "color": "black", "strokeWidth": 2, "yOffset": 25, "xOffset": -5, "x2Offset": 5}, "encoding": {"x": {"field": "t", "type": "nominal", "bandPosition": 0}, "x2": {"field": "t", "bandPosition": 1}, "y": {"datum": 0}}},
           {"transform": [{"filter": "datum.tr == 'MoMΦ'"}], "mark": {"type": "rule", "color": "black", "strokeWidth": 2, "yOffset": 17, "y2Offset": 26, "xOffset": -5}, "encoding": {"x": {"field": "t", "type": "nominal", "bandPosition": 0}, "y": {"datum": 0}, "y2": {"datum": 0}}},
           {"transform": [{"filter": "datum.tr == 'MoMΦ'"}], "mark": {"type": "rule", "color": "black", "strokeWidth": 2, "yOffset": 17, "y2Offset": 26, "xOffset": 5}, "encoding": {"x": {"field": "t", "type": "nominal", "bandPosition": 1}, "y": {"datum": 0}, "y2": {"datum": 0}}},
           {"data": {"name": "sig"}, "transform": [{"filter": "datum.g == 'TLR9'"}], "mark": {"type": "line", "color": "black", "strokeWidth": 2}, "encoding": {"xOffset": {"field": "tr", "type": "nominal"}, "y": {"field": "y", "type": "quantitative", "scale": {"domain": [0, 2], "nice": false}}, "detail": {"field": "id", "type": "nominal"}, "order": {"field": "s", "type": "quantitative"}}},
           {"data": {"name": "lab"}, "transform": [{"filter": "datum.g == 'TLR9' && datum.b == 'MoMΦ + 60 µg EVs'"}], "mark": {"type": "text", "fontSize": 43, "fontWeight": "bold", "color": "black", "baseline": "alphabetic", "dx": 61.9, "dy": 21}, "encoding": {"xOffset": {"field": "a", "type": "nominal"}, "y": {"field": "y", "type": "quantitative", "scale": {"domain": [0, 2], "nice": false}}, "text": {"field": "lbl"}}},
           {"data": {"name": "lab"}, "transform": [{"filter": "datum.g == 'TLR9' && datum.b == 'MoMΦ + 0.6 µg EVs'"}], "mark": {"type": "text", "fontSize": 43, "fontWeight": "bold", "color": "black", "baseline": "alphabetic", "dx": 31, "dy": 21}, "encoding": {"xOffset": {"field": "a", "type": "nominal"}, "y": {"field": "y", "type": "quantitative", "scale": {"domain": [0, 2], "nice": false}}, "text": {"field": "lbl"}}}
         ]}
      ]},
      {"width": 10, "height": 405, "data": {"values": []}, "mark": "point", "encoding": {}},
      {"spacing": 165, "bounds": "flush", "hconcat": [
        {"width": 440, "height": 214, "title": {"text": "RELA", "offset": -51.4},
         "data": {"name": "bars"}, "transform": [{"filter": "datum.g == 'RELA'"}],
         "encoding": {
           "x": {"field": "t", "type": "nominal", "title": null, "scale": {"domain": ["24h","48h"], "paddingInner": 0.26, "paddingOuter": 0.092, "align": 0.6}},
           "y": {"field": "m", "type": "quantitative", "scale": {"domain": [0, 1.5], "nice": false}, "axis": {"values": [0,0.25,0.5,0.75,1,1.25,1.5], "labelExpr": "datum.value % 0.5 == 0 ? format(datum.value, '.1f') : ''", "title": "I", "titleX": -73, "titleY": -52}}
         },
         "layer": [
           {"mark": {"type": "bar", "stroke": "black", "strokeWidth": 2},
            "encoding": {"xOffset": {"field": "tr", "type": "nominal", "scale": {"domain": ["MoMΦ","MoMΦ + 0.6 µg EVs","MoMΦ + 60 µg EVs"], "paddingInner": 0.267, "paddingOuter": 0}},
                         "fill": {"field": "tr", "type": "nominal", "scale": {"domain": ["MoMΦ","MoMΦ + 0.6 µg EVs","MoMΦ + 60 µg EVs"], "range": ["#ffffff","#ffff9c","#ff9c9c"]}}}},
           {"mark": {"type": "rule", "color": "black", "strokeWidth": 2}, "encoding": {"xOffset": {"field": "tr", "type": "nominal"}, "y2": {"field": "u"}}},
           {"mark": {"type": "tick", "orient": "horizontal", "size": 23, "thickness": 2, "color": "black", "opacity": 1}, "encoding": {"xOffset": {"field": "tr", "type": "nominal"}, "y": {"field": "u", "type": "quantitative", "scale": {"domain": [0, 1.5], "nice": false}}}},
           {"mark": {"type": "rule", "color": "black", "strokeWidth": 2, "y2Offset": 9}, "encoding": {"xOffset": {"field": "tr", "type": "nominal"}, "y": {"datum": 0}, "y2": {"datum": 0}}},
           {"transform": [{"filter": "datum.tr == 'MoMΦ'"}], "mark": {"type": "rule", "color": "black", "strokeWidth": 2, "yOffset": 25, "xOffset": -5, "x2Offset": 5}, "encoding": {"x": {"field": "t", "type": "nominal", "bandPosition": 0}, "x2": {"field": "t", "bandPosition": 1}, "y": {"datum": 0}}},
           {"transform": [{"filter": "datum.tr == 'MoMΦ'"}], "mark": {"type": "rule", "color": "black", "strokeWidth": 2, "yOffset": 17, "y2Offset": 26, "xOffset": -5}, "encoding": {"x": {"field": "t", "type": "nominal", "bandPosition": 0}, "y": {"datum": 0}, "y2": {"datum": 0}}},
           {"transform": [{"filter": "datum.tr == 'MoMΦ'"}], "mark": {"type": "rule", "color": "black", "strokeWidth": 2, "yOffset": 17, "y2Offset": 26, "xOffset": 5}, "encoding": {"x": {"field": "t", "type": "nominal", "bandPosition": 1}, "y": {"datum": 0}, "y2": {"datum": 0}}},
           {"data": {"name": "sig"}, "transform": [{"filter": "datum.g == 'RELA'"}], "mark": {"type": "line", "color": "black", "strokeWidth": 2}, "encoding": {"xOffset": {"field": "tr", "type": "nominal"}, "y": {"field": "y", "type": "quantitative", "scale": {"domain": [0, 1.5], "nice": false}}, "detail": {"field": "id", "type": "nominal"}, "order": {"field": "s", "type": "quantitative"}}},
           {"data": {"name": "lab"}, "transform": [{"filter": "datum.g == 'RELA' && datum.b == 'MoMΦ + 0.6 µg EVs'"}], "mark": {"type": "text", "fontSize": 43, "fontWeight": "bold", "color": "black", "baseline": "alphabetic", "dx": 31, "dy": 22}, "encoding": {"xOffset": {"field": "a", "type": "nominal"}, "y": {"field": "y", "type": "quantitative", "scale": {"domain": [0, 1.5], "nice": false}}, "text": {"field": "lbl"}}}
         ]},
        {"width": 440, "height": 214, "title": {"text": "DEFB1", "offset": -51.4},
         "data": {"name": "bars"}, "transform": [{"filter": "datum.g == 'DEFB1'"}],
         "encoding": {
           "x": {"field": "t", "type": "nominal", "title": null, "scale": {"domain": ["24h","48h"], "paddingInner": 0.26, "paddingOuter": 0.092, "align": 0.6}},
           "y": {"field": "m", "type": "quantitative", "scale": {"domain": [0, 5], "nice": false}, "axis": {"values": [0,0.5,1,1.5,2,2.5,3,3.5,4,4.5,5], "labelExpr": "datum.value % 1 == 0 ? format(datum.value, 'd') : ''", "title": "J", "titleX": -65, "titleY": -52}}
         },
         "layer": [
           {"mark": {"type": "bar", "stroke": "black", "strokeWidth": 2},
            "encoding": {"xOffset": {"field": "tr", "type": "nominal", "scale": {"domain": ["MoMΦ","MoMΦ + 0.6 µg EVs","MoMΦ + 60 µg EVs"], "paddingInner": 0.267, "paddingOuter": 0}},
                         "fill": {"field": "tr", "type": "nominal", "scale": {"domain": ["MoMΦ","MoMΦ + 0.6 µg EVs","MoMΦ + 60 µg EVs"], "range": ["#ffffff","#ffff9c","#ff9c9c"]}}}},
           {"mark": {"type": "rule", "color": "black", "strokeWidth": 2}, "encoding": {"xOffset": {"field": "tr", "type": "nominal"}, "y2": {"field": "u"}}},
           {"mark": {"type": "tick", "orient": "horizontal", "size": 23, "thickness": 2, "color": "black", "opacity": 1}, "encoding": {"xOffset": {"field": "tr", "type": "nominal"}, "y": {"field": "u", "type": "quantitative", "scale": {"domain": [0, 5], "nice": false}}}},
           {"mark": {"type": "rule", "color": "black", "strokeWidth": 2, "y2Offset": 9}, "encoding": {"xOffset": {"field": "tr", "type": "nominal"}, "y": {"datum": 0}, "y2": {"datum": 0}}},
           {"transform": [{"filter": "datum.tr == 'MoMΦ'"}], "mark": {"type": "rule", "color": "black", "strokeWidth": 2, "yOffset": 25, "xOffset": -5, "x2Offset": 5}, "encoding": {"x": {"field": "t", "type": "nominal", "bandPosition": 0}, "x2": {"field": "t", "bandPosition": 1}, "y": {"datum": 0}}},
           {"transform": [{"filter": "datum.tr == 'MoMΦ'"}], "mark": {"type": "rule", "color": "black", "strokeWidth": 2, "yOffset": 17, "y2Offset": 26, "xOffset": -5}, "encoding": {"x": {"field": "t", "type": "nominal", "bandPosition": 0}, "y": {"datum": 0}, "y2": {"datum": 0}}},
           {"transform": [{"filter": "datum.tr == 'MoMΦ'"}], "mark": {"type": "rule", "color": "black", "strokeWidth": 2, "yOffset": 17, "y2Offset": 26, "xOffset": 5}, "encoding": {"x": {"field": "t", "type": "nominal", "bandPosition": 1}, "y": {"datum": 0}, "y2": {"datum": 0}}},
           {"data": {"name": "sig"}, "transform": [{"filter": "datum.g == 'DEFB1'"}], "mark": {"type": "line", "color": "black", "strokeWidth": 2}, "encoding": {"xOffset": {"field": "tr", "type": "nominal"}, "y": {"field": "y", "type": "quantitative", "scale": {"domain": [0, 5], "nice": false}}, "detail": {"field": "id", "type": "nominal"}, "order": {"field": "s", "type": "quantitative"}}},
           {"data": {"name": "lab"}, "transform": [{"filter": "datum.g == 'DEFB1' && datum.b == 'MoMΦ + 60 µg EVs'"}], "mark": {"type": "text", "fontSize": 43, "fontWeight": "bold", "color": "black", "baseline": "alphabetic", "dx": 61.9, "dy": 20}, "encoding": {"xOffset": {"field": "a", "type": "nominal"}, "y": {"field": "y", "type": "quantitative", "scale": {"domain": [0, 5], "nice": false}}, "text": {"field": "lbl"}}}
         ]}
      ]}
    ]
  }
],
"spacing": 141.4,
"bounds": "flush"
}
